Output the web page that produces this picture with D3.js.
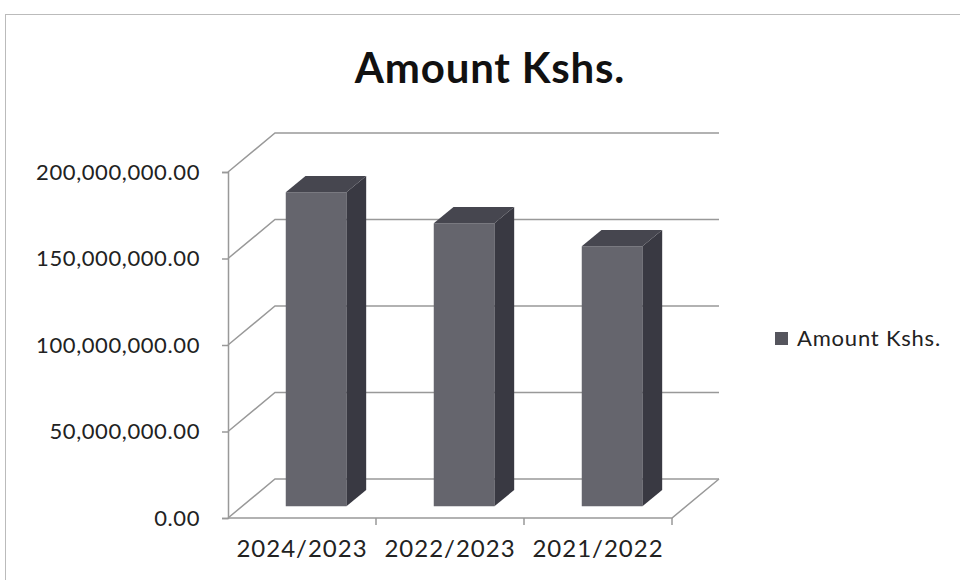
<!DOCTYPE html>
<html>
<head>
<meta charset="utf-8">
<script src="https://cdn.jsdelivr.net/npm/d3@7"></script>
<style>
  body { margin: 0; background: #fff; }
  text { font-family: Lato, "Open Sans", sans-serif; fill: #222; }
</style>
</head>
<body>
<div id="chart"></div>
<script>
// Chart data
var categories = ["2024/2023", "2022/2023", "2021/2022"];
var amounts = [181500000, 163600000, 150300000];
var yTicks = [0, 50000000, 100000000, 150000000, 200000000];
var seriesName = "Amount Kshs.";

var width = 960, height = 580;
// depth of the 3d box (oblique offset)
var depthX = 47, depthY = -39;
// bar sits between these depth fractions
var barFront = 0.3, barBack = 0.72;

var svg = d3.select("#chart")
    .append("svg")
    .attr("width", width)
    .attr("height", height);

// Chart border
svg.append("rect")
    .attr("x", 5.5).attr("y", 14.5)
    .attr("width", 970).attr("height", 600)
    .attr("fill", "none")
    .attr("stroke", "#bbb")
    .attr("stroke-width", 1);

// Title
svg.append("text")
    .attr("x", 490)
    .attr("y", 83)
    .attr("text-anchor", "middle")
    .style("font-size", "42px")
    .style("font-weight", "bold")
    .style("letter-spacing", "0.8px")
    .style("fill", "#111")
    .text("Amount Kshs.");

// Scales (front plane)
var x = d3.scaleBand()
    .domain(categories)
    .range([228, 672]);

var y = d3.scaleLinear()
    .domain([0, 200000000])
    .range([518, 172]);

function px(xv, f) { return xv + f * depthX; }
function py(yv, f) { return yv + f * depthY; }

var gridColor = "#999";

// Back wall gridlines + side wall diagonals
yTicks.forEach(function(t) {
    svg.append("path")
        .attr("fill", "none")
        .attr("stroke", gridColor)
        .attr("stroke-width", 1.5)
        .attr("d", "M" + x.range()[0] + "," + y(t) +
            "L" + px(x.range()[0], 1) + "," + py(y(t), 1) +
            "L" + px(x.range()[1], 1) + "," + py(y(t), 1));
});

// Floor front + right edge
svg.append("path")
    .attr("fill", "none")
    .attr("stroke", gridColor)
    .attr("stroke-width", 1.5)
    .attr("d", "M" + x.range()[0] + "," + y(0) +
        "L" + x.range()[1] + "," + y(0) +
        "L" + px(x.range()[1], 1) + "," + py(y(0), 1));

// Y axis
svg.append("g")
    .attr("transform", "translate(" + x.range()[0] + ",0)")
    .call(d3.axisLeft(y)
        .tickValues(yTicks)
        .tickSize(6)
        .tickPadding(22)
        .tickFormat(d3.format(",.2f")))
    .call(function(g) {
        g.select(".domain").attr("stroke", gridColor).attr("stroke-width", 1.5);
        g.selectAll(".tick line").attr("stroke", gridColor).attr("stroke-width", 1.5);
        g.selectAll(".tick text")
            .attr("fill", "#222")
            .style("font-size", "22px")
            .style("letter-spacing", "0.6px")
            .style("font-family", "Lato, 'Open Sans', sans-serif");
    });

// X axis
svg.append("g")
    .attr("transform", "translate(0," + y(0) + ")")
    .call(d3.axisBottom(x).tickSize(0).tickPadding(22))
    .call(function(g) {
        g.select(".domain").remove();
        g.selectAll(".tick text")
            .attr("fill", "#222")
            .style("font-size", "24px")
            .style("letter-spacing", "1px")
            .style("font-family", "Lato, 'Open Sans', sans-serif");
    });

// Category separator ticks
svg.append("g")
    .selectAll("line")
    .data(categories.slice(1).concat(["end"]))
    .enter()
    .append("line")
    .attr("x1", function(d, i) { return x.range()[0] + x.bandwidth() * (i + 1); })
    .attr("x2", function(d, i) { return x.range()[0] + x.bandwidth() * (i + 1); })
    .attr("y1", y(0))
    .attr("y2", y(0) + 7)
    .attr("stroke", gridColor)
    .attr("stroke-width", 1.5);

// 3d bars
var barW = x.bandwidth() * 0.41;
var bars = svg.append("g")
    .selectAll("g")
    .data(amounts)
    .enter()
    .append("g");

function bx(i) { return x(categories[i]) + (x.bandwidth() - barW) / 2; }

// front face
bars.append("path")
    .attr("fill", "#65656d")
    .attr("d", function(d, i) {
        var x0 = px(bx(i), barFront), x1 = x0 + barW;
        var y0 = py(y(0), barFront), y1 = py(y(d), barFront);
        return "M" + x0 + "," + y0 + "L" + x0 + "," + y1 + "L" + x1 + "," + y1 + "L" + x1 + "," + y0 + "Z";
    });

// side face
bars.append("path")
    .attr("fill", "#393942")
    .attr("d", function(d, i) {
        var xf = px(bx(i), barFront) + barW, xb = px(bx(i), barBack) + barW;
        return "M" + xf + "," + py(y(0), barFront) +
            "L" + xf + "," + py(y(d), barFront) +
            "L" + xb + "," + py(y(d), barBack) +
            "L" + xb + "," + py(y(0), barBack) + "Z";
    });

// top face
bars.append("path")
    .attr("fill", "#46464f")
    .attr("d", function(d, i) {
        var xf = px(bx(i), barFront), xb = px(bx(i), barBack);
        var yf = py(y(d), barFront), yb = py(y(d), barBack);
        return "M" + xf + "," + yf + "L" + xb + "," + yb +
            "L" + (xb + barW) + "," + yb + "L" + (xf + barW) + "," + yf + "Z";
    });

// Legend
var legend = svg.append("g").attr("transform", "translate(775,332)");
legend.append("rect")
    .attr("width", 13).attr("height", 13)
    .attr("fill", "#55555d");
legend.append("text")
    .attr("x", 22)
    .attr("y", 14)
    .style("font-size", "22px")
    .style("letter-spacing", "0.8px")
    .text(seriesName);
</script>
</body>
</html>
